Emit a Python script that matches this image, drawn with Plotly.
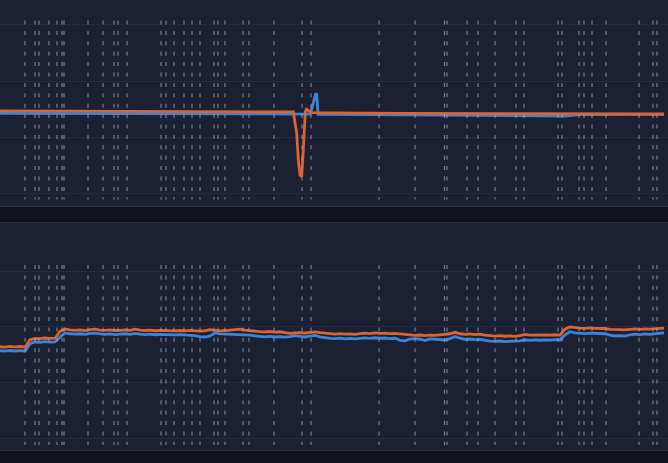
import plotly.graph_objects as go

# ---------------- data ----------------
# event markers (hours)
event_times = [2.5, 3.5, 3.9, 4.9, 5.7, 6.2, 6.4, 8.8, 10.3, 11.4, 11.8, 12.7,
               16.1, 16.6, 17.4, 18.4, 19.2, 20.0, 21.4, 21.8, 22.5, 24.3, 24.9,
               27.4, 30.2, 31.1, 37.9, 41.5, 44.45, 44.7, 46.7, 47.8, 49.5, 51.6,
               52.4, 55.8, 56.2, 57.9, 58.4, 59.2, 60.6, 63.9, 65.3, 65.7]

# top panel series
top_orange_t = [0, 5, 8, 13, 20, 25, 29.33, 29.67, 29.83, 30.0, 30.17, 30.33, 30.47,
                30.53, 30.65, 30.85, 31.2, 33, 40, 45, 50, 55, 60, 66.4]
top_orange_v = [73.4, 73.3, 73.0, 72.6, 72.5, 72.5, 72.5, 53.7, 29.7, 16.3, 14.8, 38.6, 65.3,
                72.7, 75.0, 73.5, 72.0, 71.6, 71.3, 71.1, 70.9, 70.9, 70.8, 70.7]
top_blue_t = [0, 5, 10, 13, 20, 29, 31.0, 31.2, 31.4, 31.58, 31.68, 31.74, 31.8,
              40, 45, 49, 56.5, 58, 66.4]
top_blue_v = [71.3, 71.2, 70.9, 70.5, 70.5, 70.4, 70.6, 76.0, 84.0, 89.1, 88.0, 74.0, 70.4,
              70.0, 69.5, 69.0, 68.9, 70.2, 70.4]

# bottom panel series
bot_t = [0.0, 0.5, 1.0, 1.5, 2.0, 2.5, 3.0, 3.5, 4.0, 4.5, 5.0, 5.5, 6.0, 6.5, 7.0, 7.5,
         8.0, 8.5, 9.0, 9.5, 10.0, 10.5, 11.0, 11.5, 12.0, 12.5, 13.0, 13.5, 14.0, 14.5,
         15.0, 15.5, 16.0, 16.5, 17.0, 17.5, 18.0, 18.5, 19.0, 19.5, 20.0, 20.5, 21.0, 21.5,
         22.0, 22.5, 23.0, 23.5, 24.0, 24.5, 25.0, 25.5, 26.0, 26.5, 27.0, 27.5, 28.0, 28.5,
         29.0, 29.5, 30.0, 30.5, 31.0, 31.5, 32.0, 32.5, 33.0, 33.5, 34.0, 34.5, 35.0, 35.5,
         36.0, 36.5, 37.0, 37.5, 38.0, 38.5, 39.0, 39.5, 40.0, 40.5, 41.0, 41.5, 42.0, 42.5,
         43.0, 43.5, 44.0, 44.5, 45.0, 45.5, 46.0, 46.5, 47.0, 47.5, 48.0, 48.5, 49.0, 49.5,
         50.0, 50.5, 51.0, 51.5, 52.0, 52.5, 53.0, 53.5, 54.0, 54.5, 55.0, 55.5, 56.0, 56.5,
         57.0, 57.5, 58.0, 58.5, 59.0, 59.5, 60.0, 60.5, 61.0, 61.5, 62.0, 62.5, 63.0, 63.5,
         64.0, 64.5, 65.0, 65.5, 66.0, 66.4]
bot_orange = [82.3, 82.0, 82.6, 82.2, 82.5, 82.1, 88.5, 89.8, 89.5, 90.1, 89.7, 89.9, 96.0, 98.2,
              97.4, 97.0, 97.3, 96.8, 97.6, 98.0, 97.2, 96.9, 97.3, 96.8, 97.0, 97.4, 96.9, 98.0,
              97.2, 96.8, 97.1, 96.6, 97.0, 96.7, 96.9, 96.5, 96.8, 96.4, 96.9, 96.5, 96.2, 96.6,
              97.6, 97.0, 96.5, 96.8, 97.0, 97.3, 98.0, 97.1, 96.5, 96.2, 95.8, 95.6, 95.9, 95.4,
              95.7, 95.0, 94.3, 94.6, 94.9, 94.5, 95.2, 95.6, 95.0, 94.4, 93.9, 93.6, 94.0, 93.5,
              93.8, 93.4, 94.0, 94.4, 94.1, 94.6, 94.2, 94.5, 94.0, 94.3, 93.8, 93.4, 92.9, 92.5,
              92.8, 92.3, 92.6, 92.4, 92.9, 93.3, 93.9, 95.2, 93.9, 93.4, 93.7, 93.2, 93.5, 92.6,
              92.0, 91.8, 92.2, 91.7, 92.0, 91.6, 92.2, 93.4, 92.7, 92.9, 92.5, 92.8, 92.6, 93.0,
              92.7, 98.0, 100.0, 99.2, 99.0, 98.7, 99.1, 98.8, 99.0, 98.6, 97.8, 97.4, 97.6, 97.3,
              97.9, 98.2, 97.9, 98.3, 98.0, 98.4, 98.8, 99.0]
bot_blue = [78.7, 78.4, 78.9, 78.5, 78.8, 78.3, 85.0, 86.5, 86.2, 86.8, 86.4, 86.6, 91.0, 94.6,
            93.9, 93.5, 93.9, 93.4, 94.2, 94.4, 93.7, 93.3, 93.8, 93.2, 93.5, 93.9, 93.4, 94.3,
            93.6, 93.2, 93.5, 93.0, 93.4, 93.1, 93.3, 92.9, 93.2, 92.8, 93.0, 92.3, 91.3, 91.0,
            92.0, 94.6, 93.8, 93.6, 93.4, 93.8, 93.5, 93.0, 92.6, 92.0, 91.5, 91.2, 91.5, 91.0,
            91.4, 90.9, 91.3, 92.3, 91.6, 91.0, 91.8, 92.4, 91.2, 90.4, 89.8, 89.5, 90.0, 89.4,
            89.8, 89.3, 89.9, 90.2, 89.8, 90.3, 89.9, 90.1, 89.6, 89.9, 88.0, 87.6, 89.2, 89.6,
            89.0, 87.8, 89.3, 89.0, 88.6, 88.3, 89.5, 91.4, 89.9, 88.9, 89.2, 88.7, 88.9, 88.0,
            87.3, 87.0, 87.4, 86.9, 87.2, 86.9, 87.6, 88.5, 88.0, 88.4, 88.1, 88.5, 88.2, 88.6,
            88.3, 93.0, 95.7, 94.7, 94.3, 94.0, 94.5, 94.2, 94.4, 93.9, 92.6, 91.9, 92.2, 91.8,
            93.0, 93.5, 93.2, 93.7, 93.4, 93.9, 94.3, 94.8]

# ---------------- style ----------------
W, H = 668, 463
PANEL = "#1b2132"
STRIP = "#10131c"
BORDER = "#273044"
GRID = "#252c3d"
ORANGE = "#dd6330"
BLUE = "#3b84db"
EVENT = "rgba(150,160,182,0.75)"

def py(px):
    return 1 - px / H

fig = go.Figure()

fig.add_trace(go.Scatter(x=top_blue_t, y=top_blue_v, mode="lines",
                         line=dict(color=BLUE, width=2.8), xaxis="x", yaxis="y"))
fig.add_trace(go.Scatter(x=top_orange_t, y=top_orange_v, mode="lines",
                         line=dict(color=ORANGE, width=2.8), xaxis="x", yaxis="y"))
fig.add_trace(go.Scatter(x=bot_t, y=bot_blue, mode="lines",
                         line=dict(color=BLUE, width=2.8), xaxis="x2", yaxis="y2"))
fig.add_trace(go.Scatter(x=bot_t, y=bot_orange, mode="lines",
                         line=dict(color=ORANGE, width=2.8), xaxis="x2", yaxis="y2"))

shapes = [
    dict(type="rect", xref="paper", yref="paper", x0=-0.01, x1=1.01,
         y0=py(206.5), y1=1.01, fillcolor=PANEL, line=dict(color=BORDER, width=1), layer="below"),
    dict(type="rect", xref="paper", yref="paper", x0=-0.01, x1=1.01,
         y0=py(450.5), y1=py(222.5), fillcolor=PANEL, line=dict(color=BORDER, width=1), layer="below"),
]
for xr, yr in (("x", "y domain"), ("x2", "y2 domain")):
    for t in event_times:
        shapes.append(dict(type="line", xref=xr, yref=yr, x0=t, x1=t, y0=1, y1=0,
                           line=dict(color=EVENT, width=1.2, dash="4px,6.4px"), layer="above"))

axis_common = dict(showticklabels=False, ticks="", zeroline=False, showline=False)
fig.update_layout(
    width=W, height=H,
    margin=dict(l=0, r=0, t=0, b=0),
    paper_bgcolor=STRIP, plot_bgcolor="rgba(0,0,0,0)",
    showlegend=False,
    shapes=shapes,
    xaxis=dict(domain=[0, 1], range=[0, 66.8], showgrid=False, anchor="y", **axis_common),
    xaxis2=dict(domain=[0, 1], range=[0, 66.8], showgrid=False, anchor="y2", **axis_common),
    yaxis=dict(domain=[py(199.5), py(20.5)], range=[-5.5, 154.0], tick0=0, dtick=50,
               showgrid=True, gridcolor=GRID, gridwidth=1, anchor="x", **axis_common),
    yaxis2=dict(domain=[py(445), py(265)], range=[-5.6, 155.4], tick0=0, dtick=50,
                showgrid=True, gridcolor=GRID, gridwidth=1, anchor="x2", **axis_common),
)

fig.write_html("out.html",
               config={"displayModeBar": False},
               post_script="document.body.style.margin='0';document.body.style.background='#10131c';")
